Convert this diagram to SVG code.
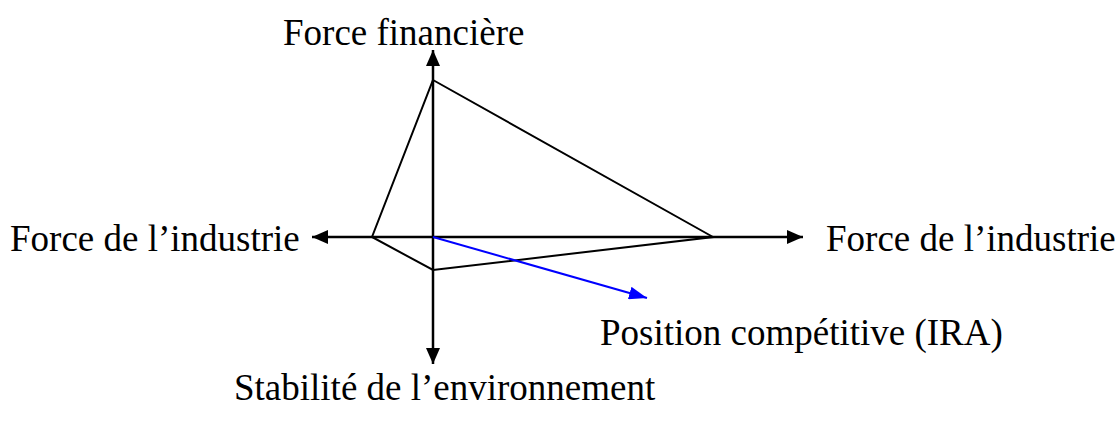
<svg xmlns="http://www.w3.org/2000/svg" width="1119" height="423" viewBox="0 0 1119 423">
<style>
text{font-family:"Liberation Serif","Times New Roman",serif;font-size:37px;fill:#000}
.ax{stroke:#000;stroke-width:2.5;fill:none}
.sh{stroke:#000;stroke-width:2;fill:none}
</style>
<defs>
<marker id="ah" markerUnits="userSpaceOnUse" markerWidth="16" markerHeight="14" refX="16" refY="7" orient="auto"><path d="M0,0 L16,7 L0,14 Z" fill="#000"/></marker>
<marker id="bh" markerUnits="userSpaceOnUse" markerWidth="18" markerHeight="13" refX="18" refY="6.5" orient="auto"><path d="M0,0 L18,6.5 L0,13 Z" fill="#00f"/></marker>
</defs>
<g id="connectors">
<line class="ax" x1="433" y1="237" x2="433" y2="50" marker-end="url(#ah)"/>
<line class="ax" x1="433" y1="237" x2="433" y2="364" marker-end="url(#ah)"/>
<line class="ax" x1="433" y1="237" x2="312" y2="237" marker-end="url(#ah)"/>
<line class="ax" x1="433" y1="237" x2="803" y2="237" marker-end="url(#ah)"/>
<polygon class="sh" points="433,80 713,237 433,270 372,237"/>
<line x1="433" y1="237" x2="647" y2="298" stroke="#00f" stroke-width="2" marker-end="url(#bh)"/>
</g>
<g id="label-top"><text x="283" y="45">Force financière</text></g>
<g id="label-left"><text x="10" y="251">Force de l’industrie</text></g>
<g id="label-right"><text x="826" y="251">Force de l’industrie</text></g>
<g id="label-ira"><text x="600" y="345">Position compétitive (IRA)</text></g>
<g id="label-bottom"><text x="234" y="400">Stabilité de l’environnement</text></g>
</svg>
